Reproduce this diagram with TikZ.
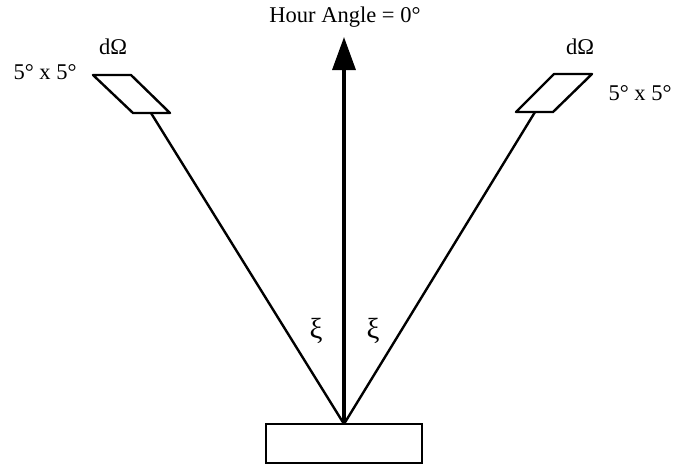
\documentclass[tikz,border=0pt]{standalone}
\usepackage{fontspec}
\setmainfont{Liberation Serif}
\usetikzlibrary{arrows.meta}
\begin{document}
\begin{tikzpicture}[x=1pt,y=-1pt,
  lbl/.style={font=\fontsize{22.5}{26}\selectfont, inner sep=0pt},
  xilbl/.style={font=\fontsize{29}{32}\selectfont, inner sep=0pt},
  thin line/.style={line width=2.4pt},
  thick line/.style={line width=3.4pt}]
\useasboundingbox (0,0) rectangle (687,466);
% base rectangle
\node[draw, thin line, minimum width=156pt, minimum height=39pt, inner sep=0pt] (base) at (344,443.5) {};
\coordinate (apex) at (344,424);
\coordinate (top) at (344,37);
% parallelograms
\draw[thin line, line join=round] (93,75) -- (131,75) -- (170,113) -- (133,113) -- cycle;
\draw[thin line, line join=round] (554,74) -- (592,74) -- (553,112) -- (516,112) -- cycle;
\coordinate (endL) at (151,113);
\coordinate (endR) at (535,112);
% lines
\draw[thin line] (apex) -- (endL);
\draw[thin line] (apex) -- (endR);
\draw[thick line, -{Triangle[length=33pt,width=23pt]}] (apex) -- (top);
% labels
\node[lbl] (ha) at (345,17) {Hour Angle = 0°};
\node[lbl] (dOL) at (113,47) {dΩ};
\node[lbl] (dOR) at (580,47) {dΩ};
\node[lbl] (sL) at (45,72) {5° x 5°};
\node[lbl] (sR) at (640,93) {5° x 5°};
\node[xilbl] (xiL) at (316,331) {ξ};
\node[xilbl] (xiR) at (373,331) {ξ};
\end{tikzpicture}
\end{document}
